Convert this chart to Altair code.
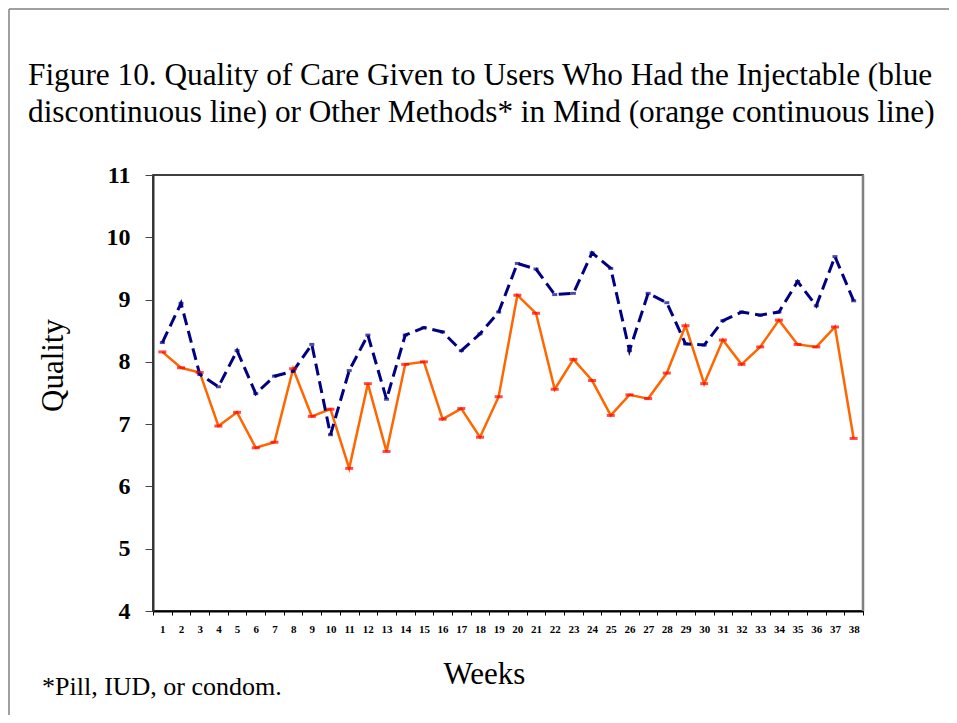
import altair as alt
import pandas as pd

weeks = list(range(1, 39))
injectable = [8.31, 8.94, 7.80, 7.60, 8.18, 7.49, 7.77, 7.85, 8.28, 6.83,
              7.86, 8.43, 7.40, 8.43, 8.55, 8.48, 8.18, 8.45, 8.80, 9.58,
              9.49, 9.08, 9.10, 9.75, 9.50, 8.18, 9.10, 8.95, 8.29, 8.27,
              8.66, 8.80, 8.75, 8.80, 9.29, 8.90, 9.69, 8.98]
other = [8.16, 7.905, 7.83, 6.97, 7.19, 6.62, 6.71, 7.89, 7.125, 7.24,
         6.29, 7.65, 6.56, 7.96, 8.00, 7.08, 7.25, 6.79, 7.44, 9.07,
         8.78, 7.56, 8.04, 7.70, 7.14, 7.47, 7.41, 7.82, 8.58, 7.65,
         8.35, 7.96, 8.24, 8.67, 8.28, 8.24, 8.56, 6.77]
y_ticks = [4, 5, 6, 7, 8, 9, 10, 11]
title_lines = ["Figure 10. Quality of Care Given to Users Who Had the Injectable (blue",
               "discontinuous line) or Other Methods* in Mind (orange continuous line)"]
footnote = "*Pill, IUD, or condom."

rows = []
for w, a, b in zip(weeks, injectable, other):
    rows.append({"week": w, "series": "Injectable", "quality": a})
    rows.append({"week": w, "series": "Other", "quality": b})
df = pd.DataFrame(rows)

SERIF = "Liberation Serif"
x_tick_values = [w - 0.5 for w in weeks] + [weeks[-1] + 0.5]

x_enc = alt.X(
    "week:Q",
    scale=alt.Scale(domain=[0.5, 38.5], nice=False, zero=False),
    axis=alt.Axis(
        title="Weeks", values=x_tick_values,
        labelExpr="datum.value < 38 ? toString(datum.value + 0.5) : ''",
        labelOffset=9.34, labelOverlap=False, labelFlush=False, labelBound=False,
        labelFont=SERIF, labelFontWeight="bold", labelFontSize=11, labelColor="#000",
        labelPadding=8, tickSize=4, tickColor="#000", domainColor="#000", domainWidth=2,
        grid=False, titleFont=SERIF, titleFontSize=31, titleFontWeight="normal",
        titleColor="#000", titleX=331, titleY=72, titleBaseline="alphabetic",
        titleAnchor="start", titleAlign="center",
    ),
)
y_enc = alt.Y(
    "quality:Q",
    scale=alt.Scale(domain=[4, 11], nice=False, zero=False),
    axis=alt.Axis(
        title="Quality", values=y_ticks, format="d", grid=False,
        labelFont=SERIF, labelFontWeight="bold", labelFontSize=24, labelColor="#000",
        labelPadding=15, tickSize=8, tickColor="#444", domainColor="#333", domainWidth=2,
        titleFont=SERIF, titleFontSize=31, titleFontWeight="normal", titleColor="#000",
        titleAngle=270, titleX=-91, titleY=190, titleBaseline="alphabetic",
        titleAlign="center", titleAnchor="start",
    ),
)

base = alt.Chart(df)
orange_line = base.transform_filter(alt.datum.series == "Other").mark_line(
    color="#FF6600", strokeWidth=2.5).encode(x=x_enc, y=y_enc)
blue_line = base.transform_filter(alt.datum.series == "Injectable").mark_line(
    color="#000080", strokeWidth=3, strokeDash=[12, 6]).encode(x=x_enc, y=y_enc)
red_ticks = base.transform_filter(alt.datum.series == "Other").mark_tick(
    orient="horizontal", color="#FF0000", size=8, thickness=3).encode(x=x_enc, y=y_enc)
blue_ticks = base.transform_filter(alt.datum.series == "Injectable").mark_tick(
    orient="horizontal", color="#000080", size=5, thickness=3).encode(x=x_enc, y=y_enc)

one = pd.DataFrame({"t": ["\n".join(title_lines)], "f": [footnote]})
title_text = alt.Chart(one).mark_text(
    font=SERIF, fontSize=31.3, align="left", baseline="alphabetic",
    lineBreak="\n", lineHeight=37, color="#000").encode(
    text="t:N", x=alt.value(-125), y=alt.value(-90))
foot_text = alt.Chart(one).mark_text(
    font=SERIF, fontSize=26, align="left", baseline="alphabetic", color="#000").encode(
    text="f:N", x=alt.value(-111), y=alt.value(520))

frame_left = alt.Chart(one).mark_rule(color="#808080", strokeWidth=1.5).encode(
    x=alt.value(-144), y=alt.value(-166), y2=alt.value(540))
frame_top = alt.Chart(one).mark_rule(color="#808080", strokeWidth=1.5).encode(
    x=alt.value(-144), x2=alt.value(796), y=alt.value(-166))
right_edge = alt.Chart(one).mark_rule(color="#808080", strokeWidth=2.5).encode(
    x=alt.value(710), y=alt.value(0), y2=alt.value(436))

chart = alt.layer(
    frame_left, frame_top, right_edge, orange_line, blue_line, red_ticks, blue_ticks,
    title_text, foot_text,
).properties(
    width=710, height=436,
    background="white",
    autosize=alt.AutoSizeParams(type="none"),
    padding={"left": 145, "top": 167, "right": 86, "bottom": 104},
).configure_view(stroke="#000", strokeWidth=1.5)

chart.save("out.html", embed_options={"renderer": "svg", "actions": False})
